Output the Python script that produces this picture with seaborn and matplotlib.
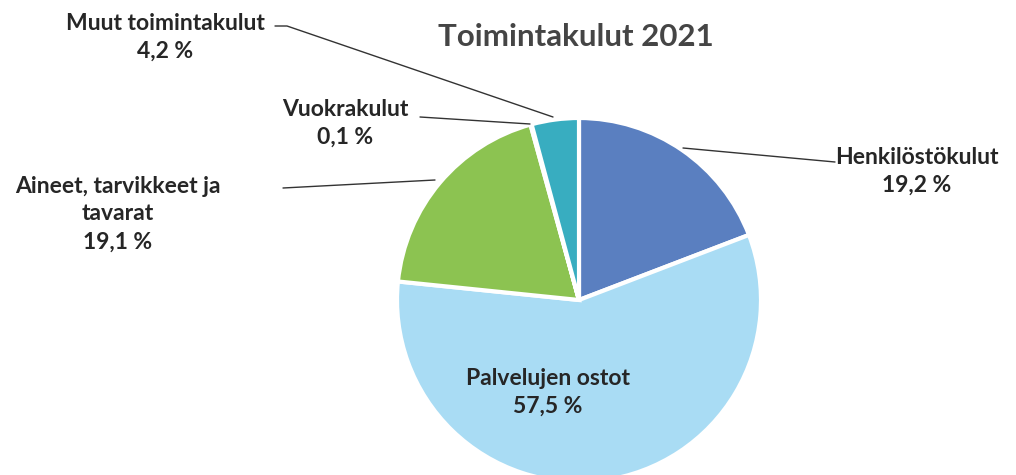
import matplotlib
matplotlib.use("Agg")
import matplotlib.pyplot as plt
import seaborn as sns

categories = ["Henkilöstökulut", "Palvelujen ostot", "Aineet, tarvikkeet ja\ntavarat", "Vuokrakulut", "Muut toimintakulut"]
values = [19.2, 57.5, 19.1, 0.1, 4.2]
value_labels = ["19,2 %", "57,5 %", "19,1 %", "0,1 %", "4,2 %"]
colors = ["#5a7fc0", "#a9dcf4", "#8cc351", "#d8eef5", "#38adc0"]
title = "Toimintakulut 2021"

sns.set_theme(style="white")
plt.rcParams['font.family'] = ['Lato', 'DejaVu Sans']

H = 475
def Y(py):
    return H - py

fig = plt.figure(figsize=(10.16, 4.75), dpi=100)
ax = fig.add_axes([0, 0, 1, 1])

ax.pie(values, colors=colors, startangle=90, counterclock=False,
       center=(579, Y(300)), radius=182,
       wedgeprops=dict(edgecolor="white", linewidth=3))
ax.set_xlim(0, 1016)
ax.set_ylim(0, H)
ax.set_aspect('equal')
ax.axis('off')

tc = "#262626"
kw = dict(ha="center", va="center", fontsize=16.5, fontweight="bold", color=tc, linespacing=1.4)

ax.text(576, Y(37), title, ha="center", va="center", fontsize=22.5, fontweight="bold", color="#454545")

ax.text(917, Y(171), categories[0] + "\n" + value_labels[0], **kw)
ax.text(548, Y(392), categories[1] + "\n" + value_labels[1], **kw)
ax.text(118, Y(214), categories[2] + "\n" + value_labels[2], **kw)
ax.text(345, Y(123), categories[3] + "\n" + value_labels[3], **kw)
ax.text(165, Y(37), categories[4] + "\n" + value_labels[4], **kw)

lc = "#333333"
ax.plot([683, 835], [Y(148), Y(162)], color=lc, lw=1)
ax.plot([283, 435], [Y(188), Y(180)], color=lc, lw=1)
ax.plot([420, 530], [Y(117), Y(124)], color=lc, lw=1)
ax.plot([275, 287, 553], [Y(26), Y(26), Y(117)], color=lc, lw=1)

fig.savefig("out.png", dpi=100)
